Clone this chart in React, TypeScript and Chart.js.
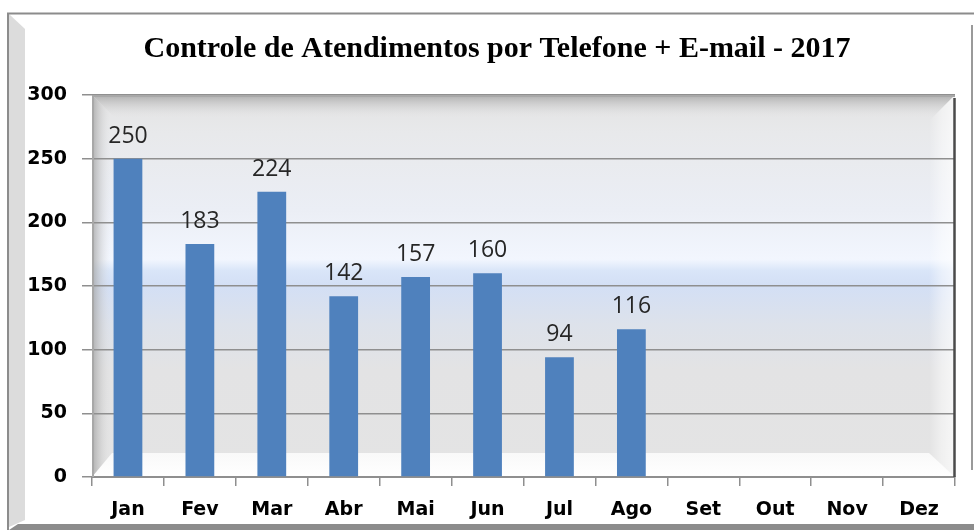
import React, { useEffect, useRef } from "react";
import { Chart, registerables } from "chart.js";

Chart.register(...registerables);

const TITLE = "Controle de Atendimentos por Telefone + E-mail - 2017";
const MONTHS = ["Jan", "Fev", "Mar", "Abr", "Mai", "Jun", "Jul", "Ago", "Set", "Out", "Nov", "Dez"];
const VALUES: (number | null)[] = [250, 183, 224, 142, 157, 160, 94, 116, null, null, null, null];
const Y_MIN = 0;
const Y_MAX = 300;
const Y_STEP = 50;

const W = 974;
const H = 530;

const backgroundPlugin = {
  id: "bgFrame",
  beforeDraw(chart: any) {
    const ctx = chart.ctx as CanvasRenderingContext2D;
    const { left: L, right: R, top: T, bottom: B } = chart.chartArea;
    ctx.save();
    ctx.fillStyle = "#ffffff";
    ctx.fillRect(0, 0, W, H);

    // outer frame: left light bevel strip
    ctx.fillStyle = "#dcdcdc";
    ctx.beginPath();
    ctx.moveTo(9, 14);
    ctx.lineTo(25, 29);
    ctx.lineTo(25, 520);
    ctx.lineTo(9, 527);
    ctx.closePath();
    ctx.fill();
    // bottom dark strip
    ctx.fillStyle = "#8c8c8c";
    ctx.beginPath();
    ctx.moveTo(18, 524);
    ctx.lineTo(W, 524);
    ctx.lineTo(W, H);
    ctx.lineTo(9, H);
    ctx.closePath();
    ctx.fill();
    ctx.strokeStyle = "#8c8c8c";
    ctx.lineWidth = 2;
    ctx.beginPath();
    ctx.moveTo(8, H);
    ctx.lineTo(8, 13.5);
    ctx.lineTo(W, 13.5);
    ctx.stroke();
    ctx.strokeStyle = "#9a9a9a";
    ctx.beginPath();
    ctx.moveTo(972, 25);
    ctx.lineTo(972, 470);
    ctx.stroke();

    // plot area gradient
    const g = ctx.createLinearGradient(0, T, 0, B);
    g.addColorStop(0, "#e3e3e3");
    g.addColorStop(0.1, "#e8e9eb");
    g.addColorStop(0.3, "#ebeef5");
    g.addColorStop(0.43, "#f2f6fe");
    g.addColorStop(0.46, "#d9e5f8");
    g.addColorStop(0.5, "#d3dff5");
    g.addColorStop(0.6, "#dde2eb");
    g.addColorStop(0.72, "#e3e3e4");
    g.addColorStop(1, "#e4e4e4");
    ctx.fillStyle = g;
    ctx.fillRect(L, T, R - L, B - T);

    const b = 22;
    // top bevel (darker)
    let gt = ctx.createLinearGradient(0, T, 0, T + b);
    gt.addColorStop(0, "rgba(165,165,165,0.85)");
    gt.addColorStop(1, "rgba(220,220,220,0.0)");
    ctx.fillStyle = gt;
    ctx.beginPath();
    ctx.moveTo(L, T);
    ctx.lineTo(R, T);
    ctx.lineTo(R - b, T + b);
    ctx.lineTo(L + b, T + b);
    ctx.closePath();
    ctx.fill();
    // left bevel (darker)
    let gl = ctx.createLinearGradient(L, 0, L + b - 4, 0);
    gl.addColorStop(0, "rgba(160,160,160,0.8)");
    gl.addColorStop(1, "rgba(220,220,220,0.0)");
    ctx.fillStyle = gl;
    ctx.beginPath();
    ctx.moveTo(L, T);
    ctx.lineTo(L + b, T + b);
    ctx.lineTo(L + b, B - b);
    ctx.lineTo(L, B);
    ctx.closePath();
    ctx.fill();
    // right bevel (lighter)
    let gr = ctx.createLinearGradient(R - b - 4, 0, R, 0);
    gr.addColorStop(0, "rgba(255,255,255,0.0)");
    gr.addColorStop(0.5, "rgba(255,255,255,0.45)");
    gr.addColorStop(1, "rgba(255,255,255,0.7)");
    ctx.fillStyle = gr;
    ctx.beginPath();
    ctx.moveTo(R, T);
    ctx.lineTo(R, B);
    ctx.lineTo(R - b - 4, B - b);
    ctx.lineTo(R - b - 4, T + b + 4);
    ctx.closePath();
    ctx.fill();
    // bottom bevel (white)
    let gb = ctx.createLinearGradient(0, B - b - 2, 0, B);
    gb.addColorStop(0, "rgba(250,250,250,0.95)");
    gb.addColorStop(1, "rgba(255,255,255,1)");
    ctx.fillStyle = gb;
    ctx.beginPath();
    ctx.moveTo(L, B);
    ctx.lineTo(L + b - 2, B - b - 2);
    ctx.lineTo(R - b - 4, B - b - 2);
    ctx.lineTo(R, B);
    ctx.closePath();
    ctx.fill();
    ctx.restore();
  },
  afterDatasetsDraw(chart: any) {
    const ctx = chart.ctx as CanvasRenderingContext2D;
    const { left: L, right: R, top: T, bottom: B } = chart.chartArea;
    ctx.save();
    // plot frame lines
    ctx.strokeStyle = "#a8a8a8";
    ctx.lineWidth = 2;
    ctx.beginPath();
    ctx.moveTo(L + 1, B);
    ctx.lineTo(L + 1, T + 1);
    ctx.lineTo(R, T + 1);
    ctx.stroke();
    ctx.strokeStyle = "#4a4a4a";
    ctx.lineWidth = 2.5;
    ctx.beginPath();
    ctx.moveTo(R - 0.5, T + 3);
    ctx.lineTo(R - 0.5, B);
    ctx.stroke();

    // data labels
    const meta = chart.getDatasetMeta(0);
    ctx.fillStyle = "#262626";
    ctx.font = "23px 'Open Sans', sans-serif";
    ctx.textAlign = "center";
    ctx.textBaseline = "alphabetic";
    meta.data.forEach((bar: any, i: number) => {
      const v = VALUES[i];
      if (v === null || v === undefined) return;
      ctx.fillText(String(v), bar.x, bar.y - 16);
    });
    ctx.restore();
  },
  afterDraw(chart: any) {
    const ctx = chart.ctx as CanvasRenderingContext2D;
    ctx.save();
    ctx.fillStyle = "#000000";
    ctx.font = "bold 30px 'Liberation Serif', serif";
    ctx.textAlign = "center";
    ctx.textBaseline = "alphabetic";
    ctx.fillText(TITLE, 497, 57);
    ctx.restore();
  },
};

export default function App() {
  const ref = useRef<HTMLCanvasElement | null>(null);

  useEffect(() => {
    if (!ref.current) return;
    const chart = new Chart(ref.current, {
      type: "bar",
      data: {
        labels: MONTHS,
        datasets: [
          {
            data: VALUES,
            backgroundColor: "#4f81bd",
            borderWidth: 0,
            barPercentage: 0.4,
            categoryPercentage: 1,
          },
        ],
      },
      options: {
        responsive: false,
        animation: false,
        layout: { padding: { left: 0, right: W - 955, top: 95, bottom: 0 } },
        plugins: {
          legend: { display: false },
          title: { display: false },
          tooltip: { enabled: false },
        },
        scales: {
          x: {
            afterFit: (s: any) => {
              s.height = H - 477;
            },
            grid: {
              display: true,
              drawOnChartArea: false,
              drawTicks: true,
              tickLength: 9,
              color: "#8f8f8f",
              lineWidth: 1.5,
              offset: true,
            },
            border: { display: true, color: "#8f8f8f", width: 2 },
            ticks: {
              color: "#000000",
              font: { family: "'DejaVu Sans', sans-serif", size: 19, weight: "bold" },
              padding: 13,
            },
          },
          y: {
            min: Y_MIN,
            max: Y_MAX,
            afterFit: (s: any) => {
              s.width = 92;
            },
            grid: {
              color: "#8f8f8f",
              lineWidth: 1.5,
              tickLength: 10,
            },
            border: { display: false },
            ticks: {
              stepSize: Y_STEP,
              color: "#000000",
              font: { family: "'DejaVu Sans', sans-serif", size: 19, weight: "bold" },
              padding: 15,
            },
          },
        },
      },
      plugins: [backgroundPlugin],
    });
    return () => chart.destroy();
  }, []);

  return (
    <canvas
      ref={ref}
      width={W}
      height={H}
      style={{ position: "absolute", left: 0, top: 0, display: "block", width: W, height: H }}
    />
  );
}
